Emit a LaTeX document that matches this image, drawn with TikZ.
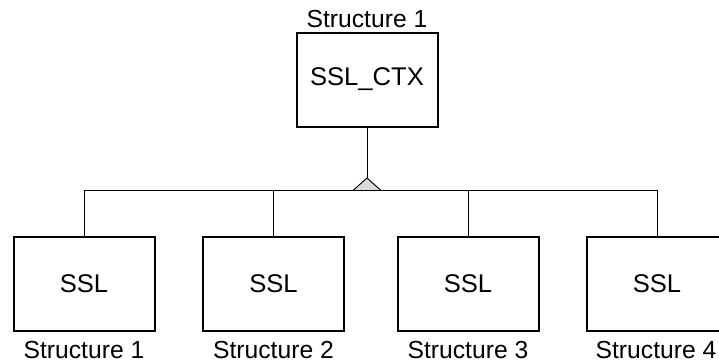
\documentclass[tikz,border=0pt]{standalone}
\usepackage{fontspec}
\setmainfont{Liberation Sans}
\usepackage{tikz}
\usetikzlibrary{positioning}

\tikzset{
  sbox/.style={draw, line width=1.5pt, rectangle, minimum width=105.75pt, minimum height=70.5pt, inner sep=0pt, font=\fontsize{19.2}{22}\selectfont},
  slabel/.style={anchor=base, inner sep=0.75pt, font=\fontsize{18.5}{22}\selectfont},
  link/.style={line width=0.7pt}
}

\begin{document}
\begin{tikzpicture}[x=0.75pt,y=0.75pt,yscale=-1]
\useasboundingbox (0,0) rectangle (719,364);
\clip (0,0) rectangle (719,364);

%Shape: Rectangle [id:ctx]
\node[sbox] (ctx) at (367,79.5) {SSL\_CTX};
%Shape: Rectangle [id:ssl]
\node[sbox] (ssl1) at (84,284) {SSL};
\node[sbox] (ssl2) at (273.5,284) {SSL};
\node[sbox] (ssl3) at (468,284) {SSL};
\node[sbox] (ssl4) at (657,284) {SSL};

%Straight Lines
\coordinate (apex) at (367,178);
\coordinate (bus) at (367,190.5);
\draw[link] (ctx.south) -- (apex);
\draw[link] (ssl1.north) |- (bus) -| (ssl4.north);
\draw[link] (ssl2.north) -- (ssl2.north |- bus);
\draw[link] (ssl3.north) -- (ssl3.north |- bus);
%Shape: Triangle
\draw[link, fill={rgb, 255:red, 218; green, 218; blue, 218}] (apex) -- (381,190.5) -- (353,190.5) -- cycle;

% Text Node
\node[slabel] (lctx) at (367,27) {Structure 1};
% Text Node
\node[slabel] (l1) at (84,358) {Structure 1};
\node[slabel] (l2) at (273.5,358) {Structure 2};
\node[slabel] (l3) at (468,358) {Structure 3};
\node[slabel] (l4) at (656,358) {Structure 4};

\end{tikzpicture}
\end{document}
